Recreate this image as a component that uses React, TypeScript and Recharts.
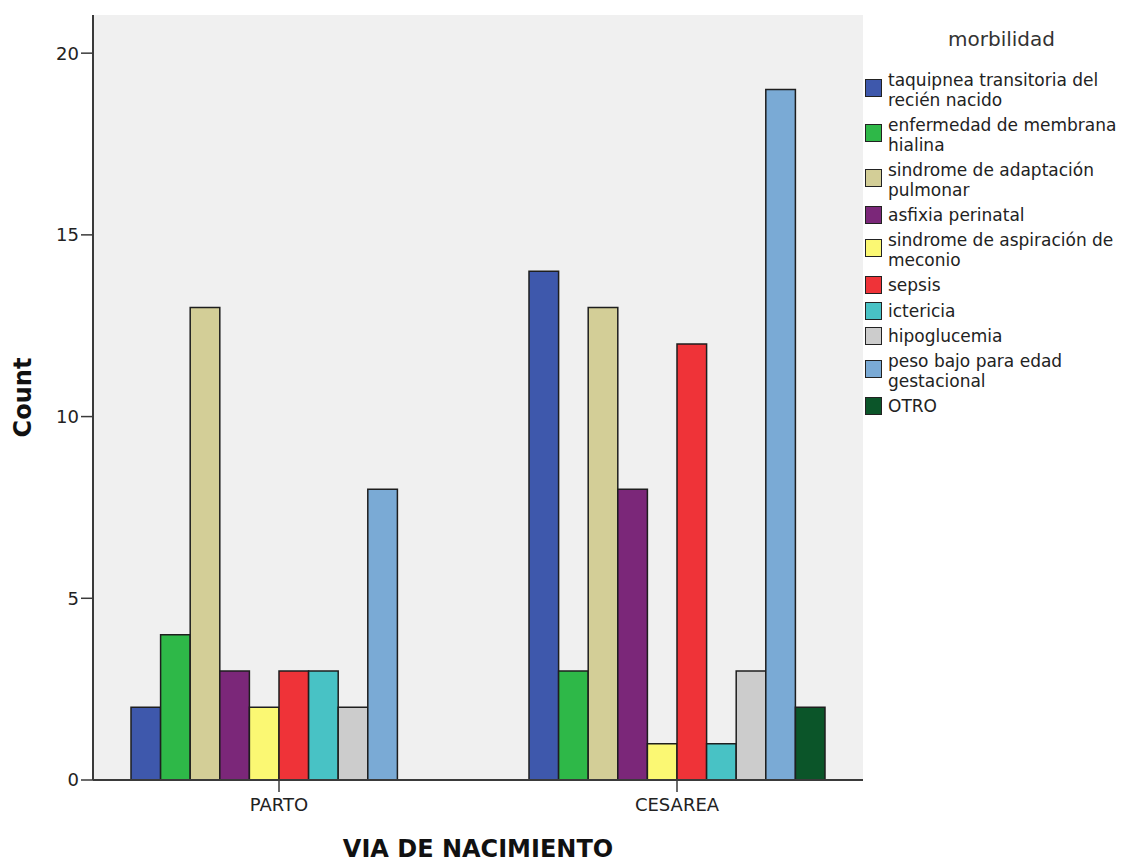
import React from 'react';
import { BarChart, Bar, XAxis, YAxis, CartesianGrid } from 'recharts';

const categories = ['PARTO', 'CESAREA'];

const seriesNames = [
  'taquipnea transitoria del\nrecién nacido',
  'enfermedad de membrana\nhialina',
  'sindrome de adaptación\npulmonar',
  'asfixia perinatal',
  'sindrome de aspiración de\nmeconio',
  'sepsis',
  'ictericia',
  'hipoglucemia',
  'peso bajo para edad\ngestacional',
  'OTRO',
];

const seriesColors = [
  '#3e58ac', '#2eb848', '#d3ce97', '#7b2779', '#fbf873',
  '#ef3338', '#48c2c5', '#cccccc', '#7aaad5', '#0b5529',
];

// counts per morbilidad, one array per via de nacimiento (null = no bar)
const partoCounts = [2, 4, 13, 3, 2, 3, 3, 2, 8, null];
const cesareaCounts = [14, 3, 13, 8, 1, 12, 1, 3, 19, 2];

const yTicks = [0, 5, 10, 15, 20];
const yMax = 21.05;

const countsByCategory = [partoCounts, cesareaCounts];

const data = categories.map((cat, ci) => {
  const row: Record<string, string | number | null> = { via: cat };
  countsByCategory[ci].forEach((v, si) => {
    row[`s${si}`] = v;
  });
  return row;
});

const AXIS = '#3a3a3a';
const FONT = '"DejaVu Sans", "Liberation Sans", sans-serif';

const YLabel = (props: any) => {
  const { viewBox } = props;
  const x = viewBox.x + 23;
  const y = viewBox.y + viewBox.height / 2;
  return (
    <text
      x={x}
      y={y}
      transform={`rotate(-90 ${x} ${y})`}
      textAnchor="middle"
      dominantBaseline="central"
      fontFamily={FONT}
      fontWeight="bold"
      fontSize={24}
      fill="#111"
    >
      Count
    </text>
  );
};

const XLabel = (props: any) => {
  const { viewBox } = props;
  return (
    <text
      x={viewBox.x + viewBox.width / 2}
      y={viewBox.y + 77}
      textAnchor="middle"
      fontFamily={FONT}
      fontWeight="bold"
      fontSize={24}
      fill="#111"
    >
      VIA DE NACIMIENTO
    </text>
  );
};

const LegendBox = () => (
  <div
    style={{
      position: 'absolute',
      left: 865,
      top: 24,
      width: 265,
      fontFamily: FONT,
      color: '#222',
    }}
  >
    <div style={{ fontSize: 20, textAlign: 'center', marginLeft: 8, color: '#333', lineHeight: '30px' }}>
      morbilidad
    </div>
    <div style={{ marginTop: 16 }}>
      {seriesNames.map((name, i) => (
        <div
          key={name}
          style={{ display: 'flex', alignItems: 'center', marginBottom: 5.1 }}
        >
          <div
            style={{
              width: 15,
              height: 16,
              background: seriesColors[i],
              border: '1.5px solid #222',
              flexShrink: 0,
              marginRight: 6,
              marginTop: name.includes('\n') ? -4 : 0,
            }}
          />
          <div style={{ fontSize: 17, lineHeight: '20px', whiteSpace: 'pre-line' }}>{name}</div>
        </div>
      ))}
    </div>
  </div>
);

export default function App() {
  return (
    <div style={{ position: 'absolute', left: 0, top: 0, width: 1130, height: 862, background: '#fff' }}>
      <BarChart
        width={1130}
        height={862}
        data={data}
        margin={{ top: 15, right: 267, bottom: 0, left: 0 }}
        barGap={0}
      >
        <CartesianGrid horizontal={false} vertical={false} fill="#f0f0f0" />
        <XAxis
          dataKey="via"
          height={82}
          padding={{ left: -13, right: -13 }}
          tickSize={12}
          tickMargin={6}
          tick={{ fontFamily: FONT, fontSize: 18, fill: '#222' }}
          axisLine={{ stroke: AXIS, strokeWidth: 2 }}
          tickLine={{ stroke: AXIS, strokeWidth: 1.5 }}
          label={<XLabel />}
        />
        <XAxis
          xAxisId="top"
          dataKey="via"
          orientation="top"
          height={0}
          tick={false}
          tickLine={false}
          axisLine={{ stroke: '#666', strokeWidth: 2 }}
        />
        <YAxis
          width={93}
          domain={[0, yMax]}
          ticks={yTicks}
          tickSize={12}
          tick={{ fontFamily: FONT, fontSize: 18, fill: '#222' }}
          axisLine={{ stroke: AXIS, strokeWidth: 2 }}
          tickLine={{ stroke: AXIS, strokeWidth: 1.5 }}
          label={<YLabel />}
        />
        <YAxis
          yAxisId="right"
          orientation="right"
          width={0}
          domain={[0, yMax]}
          tick={false}
          tickLine={false}
          axisLine={{ stroke: '#666', strokeWidth: 2 }}
        />
        {seriesNames.map((name, i) => (
          <Bar
            key={name}
            dataKey={`s${i}`}
            name={name}
            fill={seriesColors[i]}
            stroke="#1e1e1e"
            strokeWidth={1.5}
            barSize={29.6}
            isAnimationActive={false}
          />
        ))}
      </BarChart>
      <LegendBox />
    </div>
  );
}
